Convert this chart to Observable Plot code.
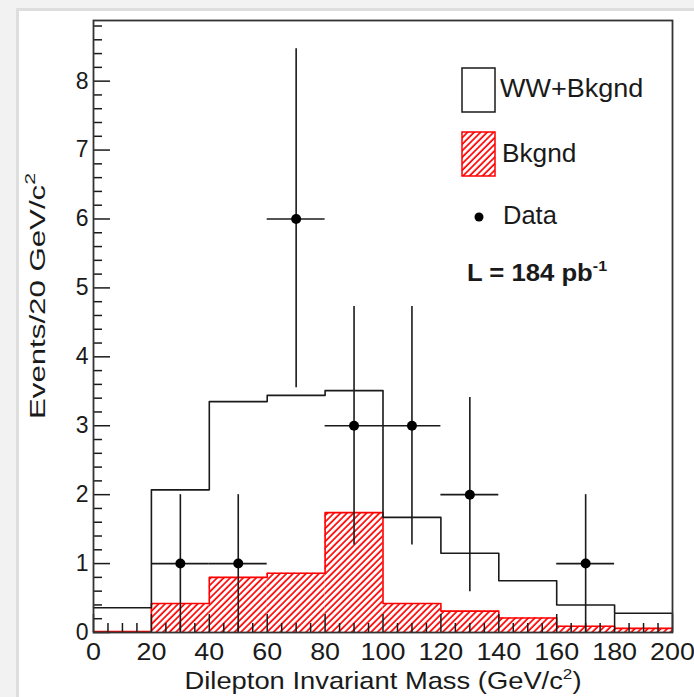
<!DOCTYPE html>
<html>
<head>
<meta charset="utf-8">
<script src="https://cdn.jsdelivr.net/npm/d3@7"></script>
<script src="https://cdn.jsdelivr.net/npm/@observablehq/plot@0.6"></script>
<style>
  html, body { margin: 0; padding: 0; background: #f2f2f2; }
  #wrap { position: relative; width: 694px; height: 697px; overflow: hidden; background: #f2f2f2; }
  #panel { position: absolute; left: 16px; top: 8px; right: 0; bottom: 0; background: #fff; border-left: 3px solid #dedede; border-top: 3px solid #dedede; }
  #wrap svg { position: absolute; left: 0; top: 0; }
</style>
</head>
<body>
<div id="wrap"><div id="panel"></div></div>
<script>
// ---- data ----
const binEdges = [0, 20, 40, 60, 80, 100, 120, 140, 160, 180, 200];
const wwPlusBkgnd = [0.36, 2.07, 3.35, 3.44, 3.51, 1.67, 1.15, 0.75, 0.40, 0.28];
const bkgnd = [0.015, 0.42, 0.80, 0.86, 1.74, 0.42, 0.31, 0.21, 0.09, 0.06];
const dataX = [30, 50, 70, 90, 110, 130, 170];
const dataY = [1, 1, 6, 3, 3, 2, 1];
const dataErrLow = [0, 0, 3.55, 1.27, 1.27, 0.59, 0];
const dataErrHigh = [2.0, 2.0, 8.47, 4.73, 4.73, 3.41, 2.0];
const binHalfWidth = 10;
const xMajorTicks = [0, 20, 40, 60, 80, 100, 120, 140, 160, 180, 200];
const xMinorTicks = d3.range(0, 201, 5).filter(v => v % 20 !== 0);
const yMajorTicks = [0, 1, 2, 3, 4, 5, 6, 7, 8];
const yMinorTicks = d3.range(0, 45).map(i => +(i * 0.2).toFixed(1)).filter(v => Math.abs(v - Math.round(v)) > 1e-6);
const yMax = 8.88;

// ---- derived tables ----
const bins = wwPlusBkgnd.map((v, i) => ({x1: binEdges[i], x2: binEdges[i + 1], ww: v, bk: bkgnd[i]}));
const stepPts = (vals) => binEdges.map((e, i) => ({x: e, y: vals[Math.min(i, vals.length - 1)]}));
const points = dataX.map((x, i) => ({x, y: dataY[i], lo: dataErrLow[i], hi: dataErrHigh[i]}));

const W = 694, H = 697;
const mL = 93, mR = 22, mT = 20, mB = 65;
const innerW = W - mL - mR, innerH = H - mT - mB;
const font = "'Liberation Sans', Arial, Helvetica, sans-serif";
const ink = "#1a1a1a";

const chart = Plot.plot({
  width: W, height: H,
  marginLeft: mL, marginRight: mR, marginTop: mT, marginBottom: mB,
  style: {fontSize: "23px", fontFamily: font, color: ink, background: "transparent", overflow: "visible"},
  x: {domain: [0, 200]},
  y: {domain: [0, yMax]},
  marks: [
    Plot.rectY(bins, {x1: "x1", x2: "x2", y: "bk", fill: "url(#hatch)", inset: 0, ariaLabel: "bkgnd-hatch"}),
    Plot.line(stepPts(bkgnd), {x: "x", y: "y", curve: "step-after", stroke: "#ff0000", strokeWidth: 1.6}),
    Plot.line(stepPts(wwPlusBkgnd), {x: "x", y: "y", curve: "step-after", stroke: ink, strokeWidth: 1.6}),
    Plot.ruleX(points, {x: "x", y1: "lo", y2: "hi", stroke: ink, strokeWidth: 1.6}),
    Plot.ruleY(points, {y: "y", x1: d => d.x - binHalfWidth, x2: d => d.x + binHalfWidth, stroke: ink, strokeWidth: 1.6}),
    Plot.dot(points, {x: "x", y: "y", r: 5, fill: "#000", stroke: null}),
    Plot.tickY(yMajorTicks, {y: d => d, insetRight: innerW - 17, stroke: ink, strokeWidth: 1.5}),
    Plot.tickY(yMinorTicks, {y: d => d, insetRight: innerW - 9, stroke: ink, strokeWidth: 1.5}),
    Plot.tickX(xMajorTicks, {x: d => d, insetTop: innerH - 18, stroke: ink, strokeWidth: 1.5}),
    Plot.tickX(xMinorTicks, {x: d => d, insetTop: innerH - 9, stroke: ink, strokeWidth: 1.5}),
    Plot.axisY({ticks: yMajorTicks, tickSize: 0, tickPadding: 5, label: null, fill: ink}),
    Plot.axisX({ticks: xMajorTicks, tickSize: 0, tickPadding: 10, label: null, fill: ink, fontSize: 24}),
    Plot.frame({stroke: "#333", strokeWidth: 1.8})
  ]
});
// make sure the hatch fill is applied
chart.querySelectorAll('g[aria-label="bkgnd-hatch"] rect').forEach(r => r.setAttribute("fill", "url(#hatch)"));
// the reference's x tick labels are horizontally wider
chart.querySelectorAll('g[aria-label="x-axis tick label"] text').forEach(t => {
  const tr = t.getAttribute("transform") || "";
  t.setAttribute("transform", tr + " scale(1.12,1)");
});
document.getElementById("wrap").appendChild(chart);

// ---- overlay: hatch pattern, titles, legend ----
const ov = d3.create("svg").attr("width", W).attr("height", H)
  .style("font-family", font).style("pointer-events", "none");
const defs = ov.append("defs");
const pat = defs.append("pattern").attr("id", "hatch").attr("patternUnits", "userSpaceOnUse")
  .attr("width", 4.6).attr("height", 10).attr("patternTransform", "rotate(45)");
pat.append("rect").attr("width", 4.6).attr("height", 10).attr("fill", "#fff");
pat.append("line").attr("x1", 1).attr("y1", 0).attr("x2", 1).attr("y2", 10)
  .attr("stroke", "#ff0000").attr("stroke-width", 1.7);

function supText(g, parts, attrs, supSize = 15) {
  const t = g.append("text");
  for (const [k, v] of Object.entries(attrs)) t.attr(k, v);
  parts.forEach(p => {
    const s = t.append("tspan").text(p.t);
    if (p.sup) s.attr("dy", -10).attr("font-size", supSize);
    if (p.back) s.attr("dy", 10);
  });
  return t;
}
// axis titles
const yt = ov.append("g").attr("transform", "translate(45,296) rotate(-90) scale(1.42,1)");
supText(yt, [{t: "Events/20 GeV/c"}, {t: "2", sup: true}],
  {x: 0, y: 0, "text-anchor": "middle", "font-size": 22, fill: ink});
const xt = ov.append("g").attr("transform", "translate(383,689) scale(1.14,1)");
supText(xt, [{t: "Dilepton Invariant Mass (GeV/c"}, {t: "2", sup: true}, {t: ")", back: true}],
  {x: 0, y: 0, "text-anchor": "middle", "font-size": 24, fill: ink});

// legend
ov.append("rect").attr("x", 462).attr("y", 68).attr("width", 33).attr("height", 44)
  .attr("fill", "#fff").attr("stroke", ink).attr("stroke-width", 1.5);
ov.append("g").attr("transform", "translate(500,97) scale(1.08,1)")
  .append("text").attr("font-size", 25).attr("fill", ink).text("WW+Bkgnd");
ov.append("rect").attr("x", 462).attr("y", 132).attr("width", 33).attr("height", 44)
  .attr("fill", "url(#hatch)").attr("stroke", "#ff0000").attr("stroke-width", 1.5);
ov.append("g").attr("transform", "translate(502,162) scale(1.05,1)")
  .append("text").attr("font-size", 25).attr("fill", ink).text("Bkgnd");
ov.append("circle").attr("cx", 479).attr("cy", 217).attr("r", 4.5).attr("fill", "#000");
ov.append("g").attr("transform", "translate(503,224) scale(1.02,1)")
  .append("text").attr("font-size", 25).attr("fill", ink).text("Data");
const lt = ov.append("g").attr("transform", "translate(467,281) scale(1.07,1)");
supText(lt, [{t: "L = 184 pb"}, {t: "-1", sup: true}],
  {x: 0, y: 0, "font-size": 24, "font-weight": "bold", fill: ink});

document.getElementById("wrap").appendChild(ov.node());
</script>
</body>
</html>
